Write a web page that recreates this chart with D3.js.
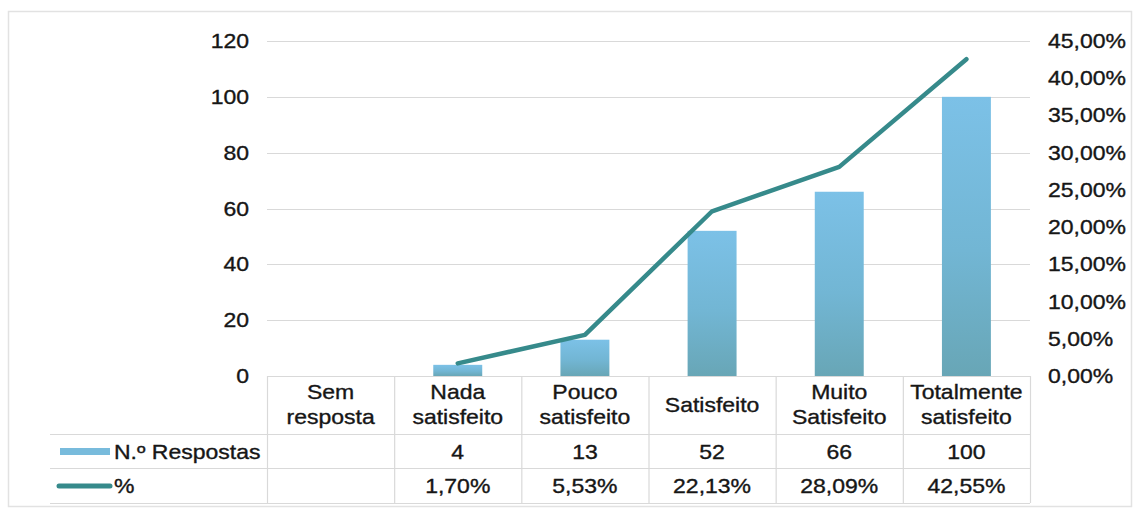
<!DOCTYPE html>
<html>
<head>
<meta charset="utf-8">
<script src="https://cdn.jsdelivr.net/npm/d3@7/dist/d3.min.js"></script>
<style>
  html, body { margin: 0; padding: 0; background: #fff; }
  svg { display: block; }
  text { font-family: "Liberation Sans", Arial, sans-serif; fill: #161616; stroke: #161616; stroke-width: 0.35px; }
</style>
</head>
<body>
<svg id="chart" width="1139" height="509"></svg>
<script>
// Satisfaction survey: number of answers (bars) and share of answers (line)
const categories = ["Sem resposta", "Nada satisfeito", "Pouco satisfeito", "Satisfeito", "Muito Satisfeito", "Totalmente satisfeito"];
const categoryLines = [["Sem", "resposta"], ["Nada", "satisfeito"], ["Pouco", "satisfeito"], ["Satisfeito"], ["Muito", "Satisfeito"], ["Totalmente", "satisfeito"]];
const respostas = [null, 4, 13, 52, 66, 100];
const percentagens = [null, 1.70, 5.53, 22.13, 28.09, 42.55];
const leftTicks = [0, 20, 40, 60, 80, 100, 120];
const rightTicks = [0, 5, 10, 15, 20, 25, 30, 35, 40, 45];
const seriesNames = ["N.º Respostas", "%"];

const svg = d3.select("#chart");
const FS = 20, SX = 1.15;          // font size and horizontal stretch of the text
const plotTop = 41, plotBottom = 376;
const tableLeft = 50, colLeft = 267, colRight = 1030;
const rowLines = [434, 468, 503];

const x = d3.scaleBand().domain(categories).range([colLeft, colRight]);
const yL = d3.scaleLinear().domain([0, 120]).range([plotBottom, plotTop]);
const yR = d3.scaleLinear().domain([0, 45]).range([plotBottom, plotTop]);

const pctFmt = v => d3.format(".2f")(v).replace(".", ",") + "%";

function label(g, txt, px, py, anchor) {
  return g.append("text")
    .attr("transform", `translate(${px},${py}) scale(${SX},1)`)
    .attr("text-anchor", anchor)
    .attr("font-size", FS)
    .text(txt);
}

// gradient used by the bars
const defs = svg.append("defs");
const grad = defs.append("linearGradient").attr("id", "barGrad")
  .attr("x1", 0).attr("y1", 0).attr("x2", 0).attr("y2", 1);
grad.append("stop").attr("offset", "0%").attr("stop-color", "#7cc1e7");
grad.append("stop").attr("offset", "55%").attr("stop-color", "#72b6d4");
grad.append("stop").attr("offset", "100%").attr("stop-color", "#68a6b6");

// chart frame
svg.append("rect")
  .attr("x", 8.5).attr("y", 11.5).attr("width", 1123).attr("height", 495)
  .attr("fill", "none").attr("stroke", "#e2e2e2").attr("stroke-width", 1.5);

// gridlines
svg.append("g").selectAll("line").data(leftTicks).join("line")
  .attr("x1", colLeft).attr("x2", colRight)
  .attr("y1", d => Math.round(yL(d)) + 0.5).attr("y2", d => Math.round(yL(d)) + 0.5)
  .attr("stroke", "#d9d9d9").attr("stroke-width", 1);

// left axis labels
const gl = svg.append("g");
leftTicks.forEach(t => label(gl, String(t), 249, yL(t) + 7, "end"));

// right axis labels
const gr = svg.append("g");
rightTicks.forEach(t => label(gr, pctFmt(t), 1048, yR(t) + 7, "start"));

// bars
const barW = x.bandwidth() * 0.385;
svg.append("g").selectAll("rect")
  .data(categories.map((c, i) => ({ c, v: respostas[i] })).filter(d => d.v != null))
  .join("rect")
  .attr("x", d => x(d.c) + (x.bandwidth() - barW) / 2)
  .attr("width", barW)
  .attr("y", d => yL(d.v))
  .attr("height", d => yL(0) - yL(d.v))
  .attr("fill", "url(#barGrad)");

// percentage line
const lineData = categories.map((c, i) => ({ c, v: percentagens[i] })).filter(d => d.v != null);
svg.append("path")
  .datum(lineData)
  .attr("fill", "none")
  .attr("stroke", "#368a8b")
  .attr("stroke-width", 4.5)
  .attr("stroke-linejoin", "round")
  .attr("stroke-linecap", "round")
  .attr("d", d3.line().x(d => x(d.c) + x.bandwidth() / 2).y(d => yR(d.v)));

// data table grid
const tg = svg.append("g").attr("stroke", "#d9d9d9").attr("stroke-width", 1.2);
tg.selectAll("line.h").data(rowLines).join("line")
  .attr("x1", tableLeft).attr("x2", colRight)
  .attr("y1", d => d + 0.5).attr("y2", d => d + 0.5);
tg.selectAll("line.v").data(categories.concat(["end"])).join("line")
  .attr("x1", (d, i) => (i < categories.length ? x(d) : colRight) + 0.5)
  .attr("x2", (d, i) => (i < categories.length ? x(d) : colRight) + 0.5)
  .attr("y1", plotBottom).attr("y2", rowLines[2]);

// category labels
const gc = svg.append("g");
categories.forEach((c, i) => {
  const cx = x(c) + x.bandwidth() / 2;
  const lines = categoryLines[i];
  if (lines.length === 1) {
    label(gc, lines[0], cx, 412, "middle");
  } else {
    lines.forEach((ln, j) => label(gc, ln, cx, 399 + j * 25, "middle"));
  }
});

// table values
const gv = svg.append("g");
categories.forEach((c, i) => {
  const cx = x(c) + x.bandwidth() / 2;
  if (respostas[i] != null) label(gv, String(respostas[i]), cx, 459, "middle");
  if (percentagens[i] != null) label(gv, pctFmt(percentagens[i]), cx, 493, "middle");
});

// legend keys in the table's first column
svg.append("rect").attr("x", 60).attr("y", 448).attr("width", 50).attr("height", 7)
  .attr("fill", "#78bbdc");
svg.append("line").attr("x1", 59).attr("x2", 110).attr("y1", 486).attr("y2", 486)
  .attr("stroke", "#368a8b").attr("stroke-width", 5).attr("stroke-linecap", "round");
label(svg, seriesNames[0], 114, 459, "start");
label(svg, seriesNames[1], 114, 493, "start");
</script>
</body>
</html>
